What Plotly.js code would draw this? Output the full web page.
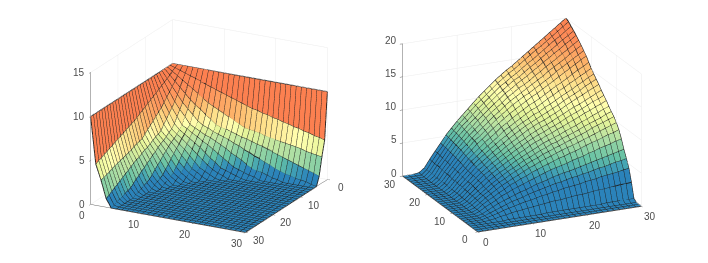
<!DOCTYPE html>
<html><head><meta charset="utf-8"><script src="https://cdn.plot.ly/plotly-3.0.1.min.js"></script>
<style>html,body{margin:0;padding:0;background:#fff}#c{width:708px;height:263px}</style></head><body><div id="c"></div>
<script>
var gridX = [0,1,2,3,4,5,6,7,8,9,10,11,12,13,14,15,16,17,18,19,20,21,22,23,24,25,26,27,28,29,30];
var gridY = [0,1,2,3,4,5,6,7,8,9,10,11,12,13,14,15,16,17,18,19,20,21,22,23,24,25,26,27,28,29,30];
// Left surface; each row stops where the surface reaches the floor (the rest is 0).
var zLeft = [
[10,10,10,10,10,10,10,10,10,10,10,10,10,10,10,10,10,10,10,10,10,10,10,10,10,10,10,10,10,10,10],
[10,9.8,9.6,9.4,9.2,9,8.8,8.6,8.4,8.2,8,7.8,7.6,7.4,7.2,7,6.8,6.7,6.5,6.4,6.2,6.1,5.9,5.8,5.6,5.5,5.3,5.2,5,4.9,4.7],
[10,9.6,9.2,8.8,8.4,8,7.6,7.2,6.8,6.5,6.2,5.9,5.6,5.3,5,4.7,4.6,4.5,4.4,4.2,4.1,4,3.9,3.8,3.7,3.6,3.5,3.3,3.2,3.1,3],
[10,9.4,8.8,8.2,7.6,7,6.5,6.1,5.6,5.2,4.7,4.5,4.4,4.2,4,3.8,3.7,3.5,3.3,3.2,3,2.8,2.6,2.4,2.2,2,1.8,1.6,1.4,1.2,1],
[10,9.2,8.4,7.6,6.8,6.2,5.6,5,4.6,4.4,4.1,3.9,3.7,3.5,3.2,3,2.7,2.5,2.2,2,1.7,1.5,1.2,0.9,0.8,0.7,0.5,0.4,0.3,0.1,0],
[10,9,8,7,6.2,5.5,4.7,4.4,4.1,3.8,3.6,3.3,3,2.7,2.3,2,1.7,1.3,1,0.8,0.7,0.5,0.3,0.2,0],
[10,8.8,7.6,6.5,5.6,4.7,4.4,4,3.7,3.3,3,2.6,2.2,1.8,1.4,1,0.8,0.6,0.4,0.2,0],
[10,8.6,7.2,6.1,5,4.4,4,3.6,3.2,2.8,2.3,1.8,1.4,0.9,0.7,0.5,0.3,0.1,0],
[10,8.4,6.8,5.6,4.6,4.1,3.7,3.2,2.7,2.2,1.7,1.2,0.8,0.5,0.3,0],
[10,8.2,6.5,5.2,4.4,3.8,3.3,2.8,2.2,1.6,1,0.7,0.4,0.1,0],
[10,8,6.2,4.7,4.1,3.6,3,2.3,1.7,1,0.7,0.3,0],
[10,7.8,5.9,4.5,3.9,3.3,2.6,1.8,1.2,0.7,0.3,0],
[10,7.6,5.6,4.4,3.7,3,2.2,1.4,0.8,0.4,0],
[10,7.4,5.3,4.2,3.5,2.7,1.8,0.9,0.5,0.1,0],
[10,7.2,5,4,3.2,2.3,1.4,0.7,0.3,0],
[10,7,4.7,3.8,3,2,1,0.5,0],
[10,6.8,4.6,3.7,2.7,1.7,0.8,0.3,0],
[10,6.7,4.5,3.5,2.5,1.3,0.6,0.1,0],
[10,6.5,4.4,3.3,2.2,1,0.4,0],
[10,6.4,4.2,3.2,2,0.8,0.3,0],
[10,6.2,4.1,3,1.7,0.7,0],
[10,6.1,4,2.8,1.5,0.5,0],
[10,5.9,3.9,2.6,1.2,0.3,0],
[10,5.8,3.8,2.4,1,0.2,0],
[10,5.6,3.7,2.2,0.8,0],
[10,5.5,3.6,2,0.7,0],
[10,5.3,3.5,1.8,0.5,0],
[10,5.2,3.3,1.6,0.4,0],
[10,5,3.2,1.4,0.3,0],
[10,4.9,3.1,1.2,0.1,0],
[10,4.7,3,1,0,0]];
// Right surface; each row lists x = 3..30 (x = 0..2 lie on the floor). Rows y = 0..2 are on the floor too.
var zRight = [
[],[],[],
[0,0,0,0,0.1,0.1,0.1,0.1,0.1,0.1,0.1,0.2,0.2,0.2,0.2,0.2,0.2,0.2,0.2,0.2,0.2,0.2,0.3,0.3,0.3,0.3,0.3,0.3],
[0,0.1,0.2,0.4,0.5,0.7,0.8,0.9,1,1.1,1.2,1.3,1.4,1.5,1.5,1.6,1.7,1.8,1.8,1.9,2,2.1,2.1,2.2,2.3,2.4,2.4,2.5],
[0,0.2,0.4,0.6,0.9,1.1,1.3,1.5,1.7,1.8,2,2.2,2.3,2.5,2.6,2.8,2.9,3,3.1,3.3,3.4,3.5,3.7,3.8,3.9,4,4.2,4.3],
[0,0.2,0.5,0.8,1.1,1.4,1.7,1.9,2.1,2.4,2.6,2.8,3,3.2,3.4,3.5,3.7,3.9,4,4.2,4.3,4.5,4.7,4.8,5,5.2,5.3,5.5],
[0,0.2,0.6,1,1.4,1.7,2,2.3,2.6,2.8,3.1,3.4,3.6,3.8,4.1,4.3,4.5,4.6,4.8,5,5.2,5.4,5.6,5.8,6,6.2,6.4,6.6],
[0,0.3,0.8,1.2,1.6,2.1,2.4,2.8,3.1,3.4,3.7,4,4.3,4.6,4.9,5.1,5.3,5.5,5.8,6,6.2,6.5,6.7,7,7.2,7.4,7.7,7.9],
[0,0.3,0.9,1.4,1.8,2.3,2.7,3.2,3.5,3.9,4.2,4.6,4.9,5.2,5.5,5.8,6.1,6.3,6.6,6.8,7.1,7.4,7.7,7.9,8.2,8.5,8.7,9],
[0,0.3,0.9,1.5,2,2.5,3,3.4,3.8,4.2,4.6,5,5.3,5.7,6,6.3,6.6,6.9,7.2,7.4,7.7,8,8.3,8.6,8.9,9.2,9.5,9.8],
[0,0.4,1,1.6,2.1,2.7,3.2,3.6,4.1,4.5,4.9,5.3,5.7,6,6.4,6.7,7,7.3,7.6,7.9,8.2,8.5,8.8,9.2,9.5,9.8,10.1,10.4],
[0,0.4,1,1.6,2.2,2.8,3.3,3.8,4.3,4.7,5.1,5.6,5.9,6.3,6.7,7,7.4,7.6,8,8.3,8.6,8.9,9.3,9.6,9.9,10.2,10.6,10.9],
[0,0.4,1.1,1.7,2.3,3,3.5,4,4.4,4.9,5.4,5.8,6.2,6.6,7,7.4,7.7,8,8.3,8.7,9,9.3,9.7,10,10.4,10.7,11.1,11.4],
[0,0.4,1.1,1.8,2.5,3.1,3.7,4.2,4.7,5.2,5.6,6.1,6.5,7,7.4,7.7,8.1,8.4,8.8,9.1,9.5,9.8,10.2,10.6,10.9,11.3,11.6,12],
[0,0.4,1.2,1.9,2.6,3.3,3.8,4.4,4.9,5.4,5.9,6.4,6.8,7.3,7.7,8.1,8.4,8.8,9.1,9.5,9.9,10.3,10.6,11,11.4,11.8,12.1,12.5],
[0,0.5,1.2,2,2.7,3.4,4,4.6,5.1,5.6,6.1,6.6,7.1,7.5,8,8.4,8.8,9.1,9.5,9.9,10.3,10.7,11.1,11.4,11.8,12.2,12.6,13],
[0,0.5,1.3,2,2.8,3.5,4.1,4.8,5.3,5.8,6.4,6.9,7.4,7.9,8.4,8.8,9.2,9.5,9.9,10.3,10.7,11.2,11.6,12,12.4,12.8,13.2,13.6],
[0,0.5,1.3,2.1,2.9,3.7,4.3,4.9,5.5,6.1,6.6,7.2,7.7,8.2,8.7,9.1,9.5,9.9,10.3,10.7,11.1,11.6,12,12.4,12.8,13.3,13.7,14.1],
[0,0.5,1.4,2.2,3,3.8,4.5,5.1,5.7,6.3,6.9,7.4,8,8.5,9,9.4,9.9,10.2,10.7,11.1,11.5,12,12.4,12.8,13.3,13.7,14.2,14.6],
[0,0.5,1.4,2.3,3.1,4,4.6,5.3,5.9,6.5,7.1,7.8,8.3,8.8,9.3,9.8,10.3,10.6,11.1,11.6,12,12.5,12.9,13.4,13.8,14.3,14.7,15.2],
[0,0.6,1.5,2.4,3.2,4.1,4.8,5.5,6.2,6.8,7.4,8.1,8.6,9.2,9.7,10.2,10.7,11.1,11.5,12,12.5,13,13.4,13.9,14.4,14.9,15.3,15.8],
[0,0.6,1.6,2.5,3.4,4.3,5,5.8,6.4,7.1,7.8,8.4,9,9.6,10.1,10.6,11.1,11.6,12,12.5,13,13.5,14,14.5,15,15.5,16,16.5],
[0,0.6,1.6,2.6,3.5,4.4,5.2,6,6.6,7.3,8,8.7,9.3,9.9,10.5,11,11.5,11.9,12.4,12.9,13.4,13.9,14.5,15,15.5,16,16.5,17],
[0,0.6,1.7,2.6,3.6,4.6,5.3,6.1,6.8,7.5,8.2,8.9,9.5,10.2,10.8,11.3,11.8,12.3,12.8,13.3,13.8,14.4,14.9,15.4,15.9,16.5,17,17.5],
[0,0.6,1.7,2.7,3.7,4.7,5.5,6.3,7,7.7,8.5,9.2,9.8,10.4,11.1,11.6,12.2,12.6,13.1,13.7,14.2,14.8,15.3,15.8,16.4,16.9,17.5,18],
[0,0.6,1.8,2.8,3.8,4.8,5.6,6.5,7.2,8,8.7,9.4,10.1,10.7,11.4,11.9,12.5,13,13.5,14.1,14.6,15.2,15.7,16.3,16.8,17.4,17.9,18.5],
[0,0.7,1.8,2.8,3.9,4.9,5.8,6.6,7.4,8.1,8.9,9.6,10.3,11,11.6,12.2,12.8,13.2,13.8,14.4,14.9,15.5,16.1,16.6,17.2,17.8,18.3,18.9],
[0,0.7,1.8,2.9,4,5,5.9,6.8,7.5,8.3,9.1,9.8,10.5,11.2,11.9,12.4,13,13.5,14.1,14.7,15.2,15.8,16.4,17,17.6,18.1,18.7,19.3],
[0,0.7,1.9,3,4,5.1,6,6.9,7.7,8.5,9.3,10,10.7,11.4,12.1,12.7,13.3,13.8,14.4,15,15.6,16.2,16.7,17.3,17.9,18.5,19.1,19.7],
[0.1,0.7,1.9,3,4.1,5.2,6.1,7,7.8,8.6,9.4,10.2,10.9,11.6,12.3,12.9,13.5,14,14.6,15.2,15.8,16.4,17,17.6,18.2,18.8,19.4,20]];
var xTicks = [0,10,20,30];
var yTicks = [0,10,20,30];
var zTicksLeft = [0,5,10,15];
var zTicksRight = [0,5,10,15,20];
var colorStops = [[0,'#2b83ba'],[0.14,'#2b83ba'],[0.2,'#3f9fb5'],[0.26,'#66c2a5'],[0.36,'#abdda4'],[0.47,'#e6f59a'],[0.55,'#ffffaf'],[0.65,'#fee08b'],[0.75,'#fdb56a'],[0.88,'#fd8c58'],[1,'#fc8050']];

var N = gridX.length;
function cellLeft(i,j){ var r = zLeft[i]; return j < r.length ? r[j] : 0; }
function cellRight(i,j){ var r = zRight[j]; return (i < 3 || !r.length) ? 0 : r[i-3]; }
// The left chart's y axis runs backwards (0 at the far side), so it is plotted mirrored.
function yFlip(y){ return 30-y; }
function ySame(y){ return y; }

function surfaceTraces(zAt, yOf, cmax, sceneId){
  var xs=[],ys=[],zs=[],I=[],J=[],K=[],v=[],lx=[],ly=[],lz=[],a,b;
  for(a=0;a<N;a++)for(b=0;b<N;b++){xs.push(gridX[a]);ys.push(yOf(gridY[b]));zs.push(zAt(a,b));}
  for(a=0;a<N-1;a++)for(b=0;b<N-1;b++){
    var p=a*N+b,q=(a+1)*N+b,r=(a+1)*N+b+1,s=a*N+b+1;
    I.push(p,p);J.push(q,r);K.push(r,s);
    v.push(zAt(a,b),zAt(a,b));
  }
  for(a=0;a<N;a++){
    for(b=0;b<N;b++){lx.push(gridX[a]);ly.push(yOf(gridY[b]));lz.push(zAt(a,b));}
    lx.push(null);ly.push(null);lz.push(null);
    for(b=0;b<N;b++){lx.push(gridX[b]);ly.push(yOf(gridY[a]));lz.push(zAt(b,a));}
    lx.push(null);ly.push(null);lz.push(null);
  }
  return [{type:'mesh3d',scene:sceneId,x:xs,y:ys,z:zs,i:I,j:J,k:K,intensity:v,intensitymode:'cell',
           colorscale:colorStops,cmin:0,cmax:cmax,showscale:false,flatshading:true,hoverinfo:'skip',
           lighting:{ambient:1,diffuse:0,specular:0,roughness:1,fresnel:0}},
          {type:'scatter3d',scene:sceneId,mode:'lines',x:lx,y:ly,z:lz,hoverinfo:'skip',showlegend:false,
           line:{color:'#1f1f1f',width:1.8},connectgaps:false}];
}
function ax(range,vals){
  return {range:range,autorange:false,tickmode:'array',tickvals:vals,showticklabels:false,
    title:{text:''},showgrid:true,gridcolor:'#ececec',gridwidth:1,zeroline:false,showbackground:false,
    showline:true,linecolor:'#666666',linewidth:1,ticks:'outside',ticklen:3,tickcolor:'#666666',tickwidth:1,
    showspikes:false};
}
function tickLabel(x,y,z,text,dx,dy,anchor){
  return {x:x,y:y,z:z,text:String(text),showarrow:false,xanchor:anchor||'center',yanchor:'middle',xshift:dx,yshift:dy,
    font:{family:'Liberation Sans, Arial, sans-serif',size:10,color:'#4d4d4d'}};
}
var notesLeft = [], notesRight = [];
xTicks.forEach(function(t){
  notesLeft.push(tickLabel(t,yFlip(30),0,t,-9,-11));
  notesRight.push(tickLabel(t,0,0,t,8,-10.5));
});
yTicks.forEach(function(t){
  notesLeft.push(tickLabel(30,yFlip(t),0,t,13,-8));
  notesRight.push(tickLabel(0,t,0,t,-13,-8));
});
zTicksLeft.forEach(function(t){ notesLeft.push(tickLabel(0,yFlip(30),t,t,-4,0,'right')); });
zTicksRight.forEach(function(t){ notesRight.push(tickLabel(0,30,t,t,-4,3,'right')); });

var data = surfaceTraces(cellLeft,yFlip,10,'scene').concat(surfaceTraces(cellRight,ySame,20,'scene2'));
var R = 3;
var layout = {width:708,height:263,margin:{l:0,r:0,t:0,b:0},paper_bgcolor:'#fff',showlegend:false,
  scene:{domain:{x:[0.084,0.508],y:[0.042,1]},aspectmode:'manual',aspectratio:{x:1.39,y:1.39,z:1.114},
    camera:{projection:{type:'orthographic'},center:{x:0,y:0,z:0},up:{x:0,y:0,z:1},
      eye:{x:0.44*R,y:-0.83*R,z:0.342*R}},
    xaxis:ax([0,30],xTicks),yaxis:ax([0,30],yTicks),zaxis:ax([0,15],zTicksLeft),annotations:notesLeft},
  scene2:{domain:{x:[0.526,0.95],y:[0.0494,1]},aspectmode:'manual',aspectratio:{x:1.44,y:1.44,z:1.126},
    camera:{projection:{type:'orthographic'},center:{x:0,y:0,z:0},up:{x:0,y:0,z:1},
      eye:{x:-0.393*R,y:-0.854*R,z:0.342*R}},
    xaxis:ax([0,30],xTicks),yaxis:ax([0,30],yTicks),zaxis:ax([0,20],zTicksRight),annotations:notesRight}};
Plotly.newPlot('c',data,layout,{displayModeBar:false});
</script></body></html>
